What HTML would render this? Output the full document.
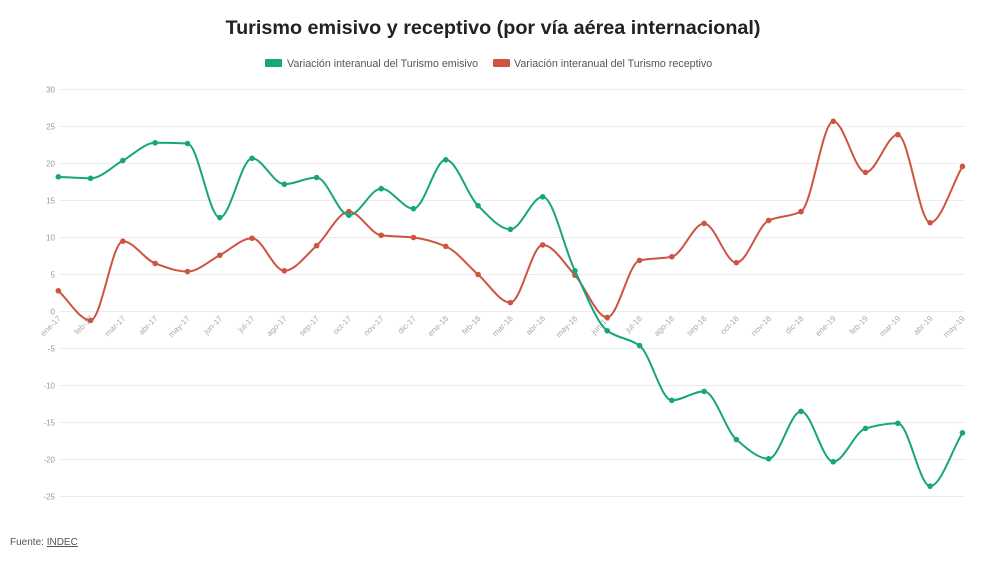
<!DOCTYPE html>
<html><head><meta charset="utf-8"><style>
body{margin:0;background:#fff;width:990px;height:557px;overflow:hidden;font-family:"Liberation Sans","DejaVu Sans",sans-serif}
</style></head><body>
<svg id="s" width="990" height="557" xmlns="http://www.w3.org/2000/svg" font-family="Liberation Sans, DejaVu Sans, sans-serif">
<text x="493" y="34" text-anchor="middle" font-size="19.8" font-weight="bold" fill="#222">Turismo emisivo y receptivo (por vía aérea internacional)</text>
<rect x="265" y="59" width="17" height="8" fill="#17a57a" rx="1"/>
<text x="287" y="67" font-size="10.7" fill="#555">Variación interanual del Turismo emisivo</text>
<rect x="493" y="59" width="17" height="8" fill="#cc5440" rx="1"/>
<text x="514" y="67" font-size="10.7" fill="#555">Variación interanual del Turismo receptivo</text>
<text x="10" y="545" font-size="10" fill="#555">Fuente: <tspan text-decoration="underline">INDEC</tspan></text>
<g id="g"></g>
</svg>
<script>
var g=document.getElementById('g'),h='';
function Y(v){return 311.5-v*7.4;}
function X(i){return 58.3+i*32.29;}
for(var v=30;v>=-25;v-=5){var y=Y(v);h+='<line x1="60" x2="965" y1="'+y+'" y2="'+y+'" stroke="#ececec" stroke-width="1"/>';
h+='<text x="55" y="'+(y+3)+'" font-size="8" fill="#999" text-anchor="end">'+v+'</text>';}
var m=['ene','feb','mar','abr','may','jun','jul','ago','sep','oct','nov','dic'];
for(var i=0;i<29;i++){var lab=m[i%12]+'-'+(17+Math.floor(i/12));var x=X(i);
h+='<text transform="translate('+(x+3)+',319) rotate(-45)" font-size="8" fill="#aaa" text-anchor="end">'+lab+'</text>';}
var e=[18.2,18,20.4,22.8,22.7,12.7,20.7,17.2,18.1,13,16.6,13.9,20.5,14.3,11.1,15.5,5.5,-2.6,-4.6,-12,-10.8,-17.3,-19.9,-13.5,-20.3,-15.8,-15.1,-23.6,-16.4];
var r=[2.8,-1.2,9.5,6.5,5.4,7.6,9.9,5.5,8.9,13.5,10.3,10,8.8,5,1.2,9,4.9,-0.8,6.9,7.4,11.9,6.6,12.3,13.5,25.7,18.8,23.9,12,19.6];
function path(d,c){var p=d.map(function(v,i){return [X(i),Y(v)];});var n=p.length,dx=32.29;
var sl=[],t=[];for(var i=0;i<n-1;i++)sl.push((p[i+1][1]-p[i][1])/dx);
for(var i=0;i<n;i++){if(i==0)t.push(sl[0]);else if(i==n-1)t.push(sl[n-2]);else{var a=sl[i-1],b=sl[i];
if(a*b<=0)t.push(0);else{var v=3*a*b/(2*a+b+ (a+2*b) )*1;t.push(2*a*b/(a+b));}}}
var s='M'+p[0][0]+','+p[0][1];
for(var i=0;i<n-1;i++){var h3=dx/3;s+=' C'+(p[i][0]+h3)+','+(p[i][1]+t[i]*h3)+' '+(p[i+1][0]-h3)+','+(p[i+1][1]-t[i+1]*h3)+' '+p[i+1][0]+','+p[i+1][1];}
var o='<path d="'+s+'" fill="none" stroke="'+c+'" stroke-width="2"/>';
p.forEach(function(q){o+='<circle cx="'+q[0]+'" cy="'+q[1]+'" r="2.8" fill="'+c+'"/>';});return o;}
h+=path(r,'#cc5440')+path(e,'#17a57a');
g.innerHTML=h;
</script>
</body></html>
